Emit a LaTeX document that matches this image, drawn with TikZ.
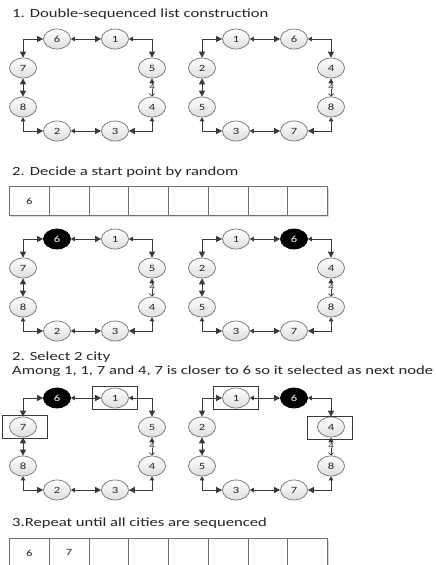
\documentclass[tikz,border=0pt]{standalone}
\usepackage{fontspec}
\setmainfont{Carlito}
\newfontfamily\widefont[FakeStretch=1.33]{Carlito}
\usetikzlibrary{arrows.meta,calc,shapes.geometric}
\definecolor{lnc}{HTML}{3A3A3A}
\definecolor{elb}{HTML}{707070}
\definecolor{txc}{HTML}{262626}
\tikzset{
 city/.style={ellipse, minimum width=27pt, minimum height=20pt, inner sep=0pt, draw=elb, top color=white, bottom color=black!13, line width=0.7pt, text=txc, font=\widefont\fontsize{9.5}{9.5}\selectfont},
 blackcity/.style={city, top color=black, bottom color=black, fill=black, draw=black, text=white},
 ringA/.style={}, ringB/.style={},
 conn/.style={draw=lnc, line width=0.8pt, {Triangle[length=4pt,width=4.5pt]}-{Triangle[length=6pt,width=6pt]}},
 connB/.style={conn, {Triangle[length=6pt,width=6pt]}-{Triangle[length=6pt,width=6pt]}},
 connL/.style={draw=lnc, line width=0.8pt, {Straight Barb[length=2.5pt,width=5pt]}-{Triangle[length=5pt,width=5pt]}},
 lab/.style={fill=white, inner sep=0.3pt, text=txc, font=\widefont\fontsize{8}{8}\selectfont},
 title/.style={anchor=west, inner sep=0pt, text=txc, font=\widefont\fontsize{12.5}{14}\selectfont},
 cell/.style={draw=elb, fill=white, line width=0.7pt, minimum width=39.75pt, minimum height=29pt, inner sep=0pt, anchor=north west, text=txc, font=\widefont\fontsize{9.5}{9.5}\selectfont},
 selbox/.style={draw=lnc, line width=0.7pt, minimum width=45pt, minimum height=23pt, inner sep=0pt}
}
\newcommand\myring[9]{%
 \node[city,ringA] (#1T1) at (57,39) {#2};
 \node[city,ringB] (#1T2) at (115,39) {#3};
 \node[city] (#1L1) at (23,68) {#4};
 \node[city] (#1R1) at (152,68) {#5};
 \node[city] (#1L2) at (23,107) {#6};
 \node[city] (#1R2) at (152,107) {#7};
 \node[city] (#1B1) at (57,131) {#8};
 \node[city] (#1B2) at (115,131) {#9};
 \draw[connB] (#1L1) |- (#1T1);
 \draw[conn] (#1T1) -- (#1T2);
 \draw[conn] (#1T2) -| (#1R1);
 \draw[connB] (#1L1) -- (#1L2);
 \draw[connL] (#1R2) -- node[lab, pos=0.55] (#1lab) {4} (#1R1);
 \draw[conn] (#1L2) |- (#1B1);
 \draw[conn] (#1B1) -- (#1B2);
 \draw[conn] (#1R2) |- (#1B2);
}
\begin{document}
\begin{tikzpicture}[x=1pt,y=-1pt]
\useasboundingbox (0,0) rectangle (436,565);
\clip (0,0) rectangle (436,565);
\fill[white] (0,0) rectangle (436,565);
% titles
\node[title] (t1) at (12,14) {1. Double-sequenced list construction};
\node[title] (t2) at (12,172) {2. Decide a start point by random};
\node[title] (t3) at (12,357) {2. Select 2 city};
\node[title] (t4) at (12,371) {Among 1, 1, 7 and 4, 7 is closer to 6 so it selected as next node};
\node[title] (t5) at (12,523) {3.Repeat until all cities are sequenced};
% rings
\myring{a}{6}{1}{7}{5}{8}{4}{2}{3}
\begin{scope}[shift={(179,0)}]
\myring{b}{1}{6}{2}{4}{5}{8}{3}{7}
\end{scope}
\begin{scope}[shift={(0,200)}, ringA/.style={blackcity}]
\myring{c}{6}{1}{7}{5}{8}{4}{2}{3}
\end{scope}
\begin{scope}[shift={(179,200)}, ringB/.style={blackcity}]
\myring{d}{1}{6}{2}{4}{5}{8}{3}{7}
\end{scope}
\begin{scope}[shift={(0,359)}, ringA/.style={blackcity}]
\myring{e}{6}{1}{7}{5}{8}{4}{2}{3}
\end{scope}
\begin{scope}[shift={(179,359)}, ringB/.style={blackcity}]
\myring{f}{1}{6}{2}{4}{5}{8}{3}{7}
\end{scope}
% selection boxes
\node[selbox] (s1) at (eT2) {};
\node[selbox] (s2) at ($(eL1)+(2,0)$) {};
\node[selbox] (s3) at (fT1) {};
\node[selbox] (s4) at ($(fR1)+(-1,1)$) {};
% tables
\fill[black!15] (10.5,187.5) rectangle (328.5,216.5);
\node[cell] (ta1) at (9,186) {6};
\foreach \i in {2,...,8} \node[cell] (ta\i) at ({9+(\i-1)*39.75},186) {};
\fill[black!15] (10.5,539.5) rectangle (328.5,568.5);
\node[cell] (tb1) at (9,538) {6};
\node[cell] (tb2) at (48.75,538) {7};
\foreach \i in {3,...,8} \node[cell] (tb\i) at ({9+(\i-1)*39.75},538) {};
\end{tikzpicture}
\end{document}
